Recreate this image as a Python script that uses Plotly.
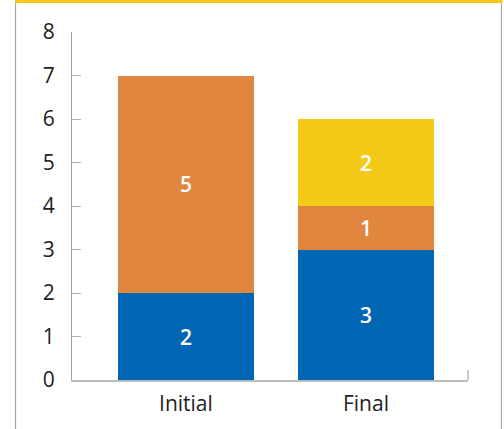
import plotly.graph_objects as go

categories = ["Initial", "Final"]
blue_vals = [2, 3]
orange_vals = [5, 1]
yellow_vals = [None, 2]
y_ticks = [0, 1, 2, 3, 4, 5, 6, 7, 8]

W, H = 504, 429
ML, MR, MT, MB = 72, 36, 32, 49
PW, PH = W - ML - MR, H - MT - MB


def px_x(px):
    return (px - ML) / PW


def px_y(py):
    return (H - MB - py) / PH


font_fam = "Open Sans, Noto Sans, sans-serif"
fig = go.Figure()
for vals, col in [(blue_vals, "#0066B3"), (orange_vals, "#E0863F"), (yellow_vals, "#F4CA18")]:
    fig.add_trace(go.Bar(
        x=categories, y=vals, marker=dict(color=col, line=dict(width=0)),
        width=0.76,
        text=[str(v) if v is not None else "" for v in vals],
        textposition="inside", insidetextanchor="middle", textangle=0,
        textfont=dict(color="white", size=21, family=font_fam, weight=600),
        hoverinfo="skip", showlegend=False,
    ))

shapes = [
    dict(type="line", xref="paper", yref="paper", x0=px_x(15.5), x1=px_x(15.5),
         y0=px_y(3), y1=px_y(429), line=dict(color="#A8A8A8", width=1.2)),
    dict(type="line", xref="paper", yref="paper", x0=px_x(501.5), x1=px_x(501.5),
         y0=px_y(3), y1=px_y(429), line=dict(color="#A8A8A8", width=1.2)),
    dict(type="rect", xref="paper", yref="paper", x0=px_x(15), x1=px_x(502.5),
         y0=px_y(3), y1=px_y(0), fillcolor="#F4CA18", line=dict(width=0)),
    dict(type="line", xref="paper", yref="paper", x0=1, x1=1,
         y0=0, y1=px_y(370), line=dict(color="#B8B8B8", width=1.5)),
]

fig.update_layout(
    barmode="stack",
    width=W, height=H,
    margin=dict(l=ML, r=MR, t=MT, b=MB),
    paper_bgcolor="white", plot_bgcolor="white",
    shapes=shapes,
    showlegend=False,
    font=dict(family=font_fam, size=21, color="#222222"),
    xaxis=dict(range=[-0.633, 1.567], showline=True, linecolor="#BDBDBD", linewidth=2,
               ticks="", showgrid=False, tickfont=dict(size=21, color="#222222"),
               ticklabelstandoff=4),
    yaxis=dict(range=[0, 8], tickvals=y_ticks, showline=True, linecolor="#A0A0A0", linewidth=1,
               ticks="inside", ticklen=9, tickcolor="#B0B0B0", tickwidth=1.2,
               showgrid=False, zeroline=False, tickfont=dict(size=21, color="#222222"),
               ticklabelstandoff=12),
)

fig.write_html("out.html")
